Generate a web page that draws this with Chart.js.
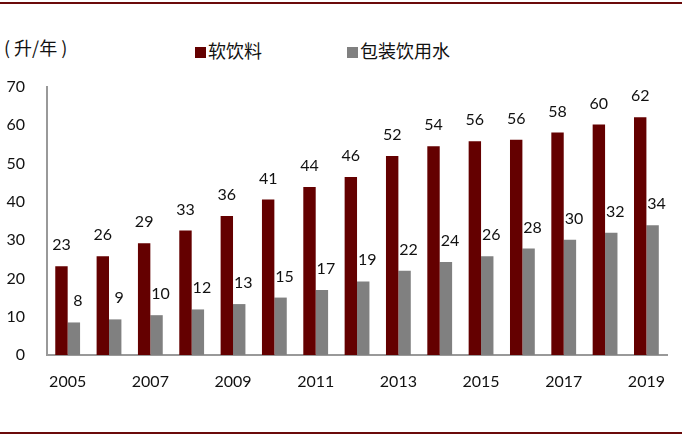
<!DOCTYPE html>
<html><head><meta charset="utf-8">
<script src="https://cdn.jsdelivr.net/npm/chart.js@4"></script>
<style>
html,body{margin:0;padding:0;background:#fff;}
#wrap{position:relative;width:682px;height:436px;}
.rule{position:absolute;left:0;width:682px;height:2px;background:#6b0a0a;}
.txt{position:absolute;font-family:"Noto Sans CJK SC",sans-serif;color:#111;line-height:22px;white-space:pre;}
.sq{display:inline-block;width:11px;height:11px;margin-right:2px;vertical-align:0px;}
</style></head>
<body><div id="wrap">
<div class="rule" style="top:2px"></div>
<div class="rule" style="top:432px"></div>
<div class="txt" style="left:4px;top:36px;font-size:18px">( 升/年 )</div>
<div class="txt" style="left:195px;top:39px;font-size:18px"><span class="sq" style="background:#640000"></span>软饮料</div>
<div class="txt" style="left:347px;top:39px;font-size:18px"><span class="sq" style="background:#808080"></span>包装饮用水</div>
<canvas id="c" width="682" height="436" style="position:absolute;left:0;top:0"></canvas>
</div>
<script>
const years = ['2005','2006','2007','2008','2009','2010','2011','2012','2013','2014','2015','2016','2017','2018','2019'];
const softDrinks = [23.2,25.8,29.2,32.5,36.3,40.6,43.9,46.5,52.0,54.5,55.8,56.2,58.1,60.2,62.1];
const softDrinkLabels = [23,26,29,33,36,41,44,46,52,54,56,56,58,60,62];
const water = [8.5,9.3,10.4,11.9,13.3,15.0,17.0,19.2,22.0,24.3,25.8,27.8,30.1,31.9,33.9];
const waterLabels = [8,9,10,12,13,15,17,19,22,24,26,28,30,32,34];
const yTicks = [0,10,20,30,40,50,60,70];

const labelPlugin = {
  id:'vals',
  afterDatasetsDraw(chart){
    const ctx = chart.ctx;
    ctx.save();
    ctx.font = '16px Lato, "Open Sans", sans-serif';
    ctx.fillStyle = '#111';
    ctx.textAlign = 'center';
    ctx.textBaseline = 'alphabetic';
    const lbls = [softDrinkLabels, waterLabels];
    const dx = [0, 4];
    chart.data.datasets.forEach((ds,i)=>{
      chart.getDatasetMeta(i).data.forEach((bar,j)=>{
        ctx.fillText(String(lbls[i][j]), bar.x + dx[i], bar.y - 16);
      });
    });
    ctx.restore();
  }
};

new Chart(document.getElementById('c'), {
  type:'bar',
  data:{
    labels: years,
    datasets:[
      {label:'软饮料', data: softDrinks, backgroundColor:'#640000'},
      {label:'包装饮用水', data: water, backgroundColor:'#808080'}
    ]
  },
  options:{
    responsive:false,
    animation:false,
    devicePixelRatio:1,
    layout:{padding:{left:0,right:1,top:87,bottom:0}},
    datasets:{bar:{categoryPercentage:0.6,barPercentage:1.0}},
    plugins:{legend:{display:false},tooltip:{enabled:false}},
    scales:{
      x:{
        grid:{display:false,drawTicks:false},
        border:{color:'#999',width:2},
        ticks:{
          autoSkip:false,maxRotation:0,padding:17,color:'#111',
          font:{family:'Lato, "Open Sans", sans-serif',size:16},
          callback:function(v,i){return i%2===0?years[i]:'';}
        },
        afterFit(s){s.height=81;}
      },
      y:{
        min:0,max:70,
        grid:{display:false,drawTicks:false},
        border:{color:'#999',width:2},
        afterBuildTicks(s){s.ticks = yTicks.map(v=>({value:v}));},
        ticks:{padding:22,color:'#111',font:{family:'Lato, "Open Sans", sans-serif',size:16}},
        afterFit(s){s.width=47;}
      }
    }
  },
  plugins:[labelPlugin]
});
</script>
</body></html>
